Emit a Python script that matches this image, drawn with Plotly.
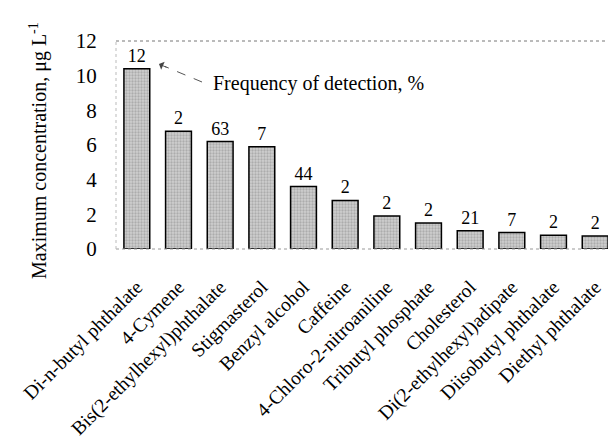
import plotly.graph_objects as go

compounds = [
    "Di-n-butyl phthalate", "4-Cymene", "Bis(2-ethylhexyl)phthalate", "Stigmasterol",
    "Benzyl alcohol", "Caffeine", "4-Chloro-2-nitroaniline", "Tributyl phosphate",
    "Cholesterol", "Di(2-ethylhexyl)adipate", "Diisobutyl phthalate", "Diethyl phthalate",
]
max_conc = [10.4, 6.8, 6.2, 5.9, 3.6, 2.8, 1.9, 1.5, 1.05, 0.95, 0.8, 0.75]
frequency = [12, 2, 63, 7, 44, 2, 2, 2, 21, 7, 2, 2]
y_ticks = [0, 2, 4, 6, 8, 10, 12]

FONT = "Liberation Serif"

# page body has an 8px default margin -> figure is 608x431 placed at (8, 8)
W, H = 608, 431
ML, MR, MT, MB = 108, 0, 33, 190
PW, PH = W - ML - MR, H - MT - MB


def px(x_abs):
    return (x_abs - 8 - ML) / PW


def py(y_abs):
    return 1 - (y_abs - 8 - MT) / PH


fig = go.Figure()
fig.add_trace(go.Bar(
    x=compounds,
    y=max_conc,
    text=[str(f) for f in frequency],
    textposition="outside",
    textfont=dict(family=FONT, size=18, color="black"),
    cliponaxis=False,
    marker=dict(
        color="#c4c4c4",
        line=dict(color="black", width=1.5),
        pattern=dict(shape=".", fgcolor="#8a8a8a", bgcolor="#cfcfcf", size=3, solidity=0.45),
    ),
    width=0.62,
))

tail = (202, 82)
head = (159, 64)

fig.update_layout(
    width=W, height=H,
    margin=dict(l=ML, r=MR, t=MT, b=MB, autoexpand=False),
    paper_bgcolor="white", plot_bgcolor="white",
    showlegend=False,
    font=dict(family=FONT, color="black"),
    xaxis=dict(
        tickangle=-45,
        tickfont=dict(family=FONT, size=19.5, color="black"),
        showgrid=False, showline=False, zeroline=False, automargin=False,
        ticks="outside", ticklen=18, tickcolor="rgba(0,0,0,0)",
    ),
    yaxis=dict(
        range=[0, 12],
        tickvals=y_ticks,
        tickfont=dict(family=FONT, size=21, color="black"),
        showgrid=False, showline=False, zeroline=False, automargin=False,
        ticks="outside", ticklen=14, tickcolor="rgba(0,0,0,0)",
    ),
    shapes=[
        dict(type="line", xref="paper", yref="paper", x0=0, x1=1, y0=1, y1=1,
             line=dict(color="#777", width=1, dash="dot")),
        dict(type="line", xref="paper", yref="paper", x0=0, x1=1, y0=0, y1=0,
             line=dict(color="#999", width=1, dash="dot")),
        dict(type="line", xref="paper", yref="paper", x0=0, x1=0, y0=0, y1=1,
             line=dict(color="#bbb", width=1, dash="dot")),
        dict(type="line", xref="paper", yref="paper",
             x0=px(tail[0]), y0=py(tail[1]), x1=px(head[0] + 6), y1=py(head[1] + 2.5),
             line=dict(color="#555", width=1, dash="dash")),
    ],
    annotations=[
        dict(text="Maximum concentration, μg L<sup>-1</sup>", xref="paper", yref="paper",
             x=px(38), y=py(151), textangle=-90, showarrow=False,
             font=dict(family=FONT, size=20, color="black"), xanchor="center", yanchor="middle"),
        dict(text="Frequency of detection, %", xref="paper", yref="paper",
             x=px(211), y=py(84), xanchor="left", yanchor="middle", showarrow=False,
             font=dict(family=FONT, size=20, color="black")),
        dict(text="", xref="paper", yref="paper", x=px(head[0]), y=py(head[1]),
             showarrow=True, ax=9, ay=4, arrowhead=1, arrowsize=1.6,
             arrowwidth=0.9, arrowcolor="#444"),
    ],
)

fig.write_html("out.html")
